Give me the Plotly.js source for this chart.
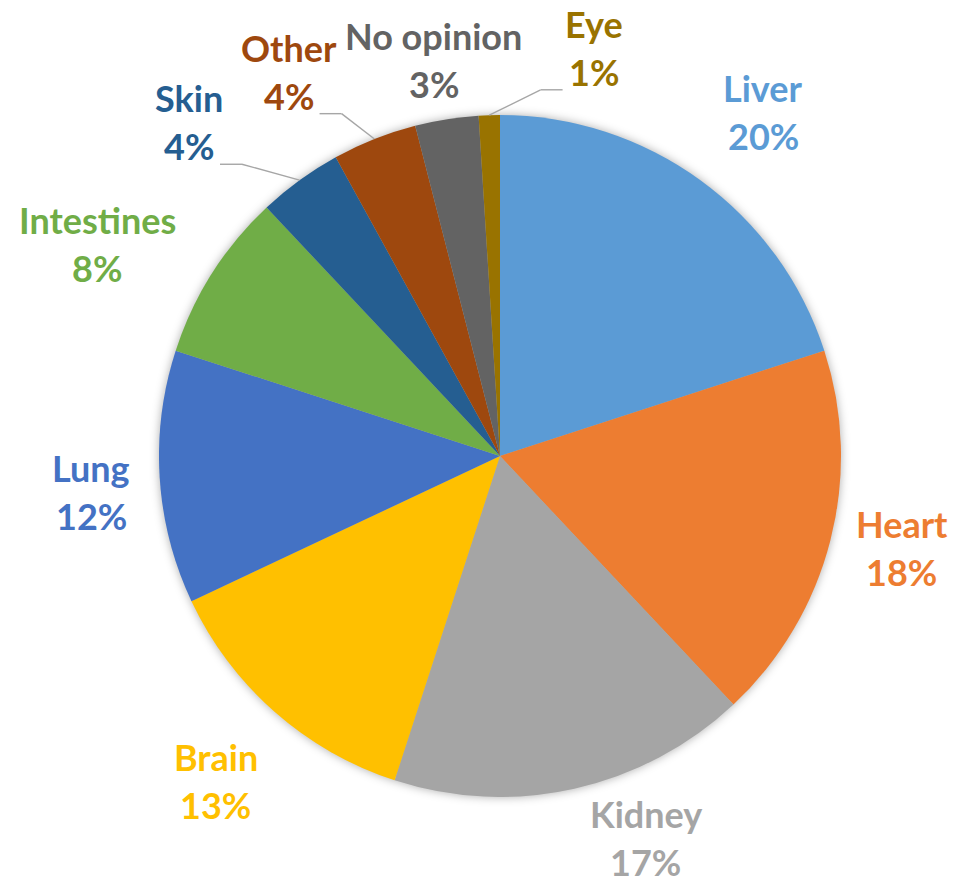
<!DOCTYPE html>
<html>
<head>
<meta charset="utf-8">
<script src="https://cdn.plot.ly/plotly-3.0.1.min.js"></script>
<style>
html,body{margin:0;padding:0;background:#fff;}
#chart{width:961px;height:884px;}
#chart .pielayer .trace{filter: drop-shadow(0px 0px 5px rgba(0,0,0,0.32));}
</style>
</head>
<body>
<div id="chart"></div>
<script>
// ---- data ----
const organs = ["Liver","Heart","Kidney","Brain","Lung","Intestines","Skin","Other","No opinion","Eye"];
const shares = [20,18,17,13,12,8,4,4,3,1];
const sliceColors = ["#5B9BD5","#ED7D31","#A5A5A5","#FFC000","#4472C4","#70AD47","#255E91","#9E480E","#636363","#997300"];

// ---- label placement (style): angle nudge from slice middle (deg) and distance as multiple of radius ----
const labelAngleNudge = [1.9,-0.7,-8.0,-0.8,-2.2,-5.3,-7.5,-7.6,-0.6,14.9];
const labelDistFactor = [1.257,1.213,1.215,1.280,1.205,1.327,1.325,1.271,1.161,1.211];
const hasLeader = [false,false,false,false,false,false,true,true,false,true];

const W = 961, H = 884;
const margin = {l: 159, r: 120, t: 114, b: 86};
const plotW = W - margin.l - margin.r, plotH = H - margin.t - margin.b;
const R = Math.min(plotW, plotH) / 2;
const cx = margin.l + plotW / 2, cy = margin.t + plotH / 2;
const toPx = v => (v - margin.l) / plotW;
const toPy = v => 1 - (v - margin.t) / plotH;
const textLift = 6;

const total = shares.reduce((a, b) => a + b, 0);
const annotations = [];
const shapes = [];
let cum = 0;
shares.forEach((v, i) => {
  const mid = (cum + v / 2) / total * 360;
  cum += v;
  const ang = (mid + labelAngleNudge[i]) * Math.PI / 180;
  const d = R * labelDistFactor[i];
  const lx = cx + d * Math.sin(ang), ly = cy - d * Math.cos(ang);
  const pct = Math.round(v / total * 100) + "%";
  annotations.push({
    xref: "paper", yref: "paper", x: toPx(lx), y: toPy(ly - 24 - textLift),
    xanchor: "center", yanchor: "middle", showarrow: false,
    text: "<b>" + organs[i] + "</b>",
    font: {family: "Lato, 'Open Sans', sans-serif", size: 36, color: sliceColors[i]}
  });
  annotations.push({
    xref: "paper", yref: "paper", x: toPx(lx), y: toPy(ly + 24 - textLift),
    xanchor: "center", yanchor: "middle", showarrow: false,
    text: "<b>" + pct + "</b>",
    font: {family: "Lato, 'Open Sans', sans-serif", size: 36, color: sliceColors[i]}
  });
  if (hasLeader[i]) {
    const mr = mid * Math.PI / 180;
    const ex = cx + R * Math.sin(mr), ey = cy - R * Math.cos(mr);
    const side = lx < cx ? 1 : -1;
    const hy = ly + 36;
    const hNear = lx + side * 31, hFar = lx + side * 53;
    shapes.push({type: "line", xref: "paper", yref: "paper",
      x0: toPx(hNear), y0: toPy(hy), x1: toPx(hFar), y1: toPy(hy),
      line: {color: "#A6A6A6", width: 1.4}});
    shapes.push({type: "line", xref: "paper", yref: "paper",
      x0: toPx(hFar), y0: toPy(hy), x1: toPx(ex), y1: toPy(ey),
      line: {color: "#A6A6A6", width: 1.4}});
  }
});

const trace = {
  type: "pie",
  labels: organs,
  values: shares,
  sort: false,
  direction: "clockwise",
  rotation: 0,
  marker: {colors: sliceColors, line: {width: 0}},
  textinfo: "none",
  hoverinfo: "label+percent",
  showlegend: false
};

const layout = {
  width: W, height: H,
  margin: margin,
  paper_bgcolor: "#ffffff",
  showlegend: false,
  annotations: annotations,
  shapes: shapes
};

Plotly.newPlot("chart", [trace], layout, {displayModeBar: false, staticPlot: true});
</script>
</body>
</html>
